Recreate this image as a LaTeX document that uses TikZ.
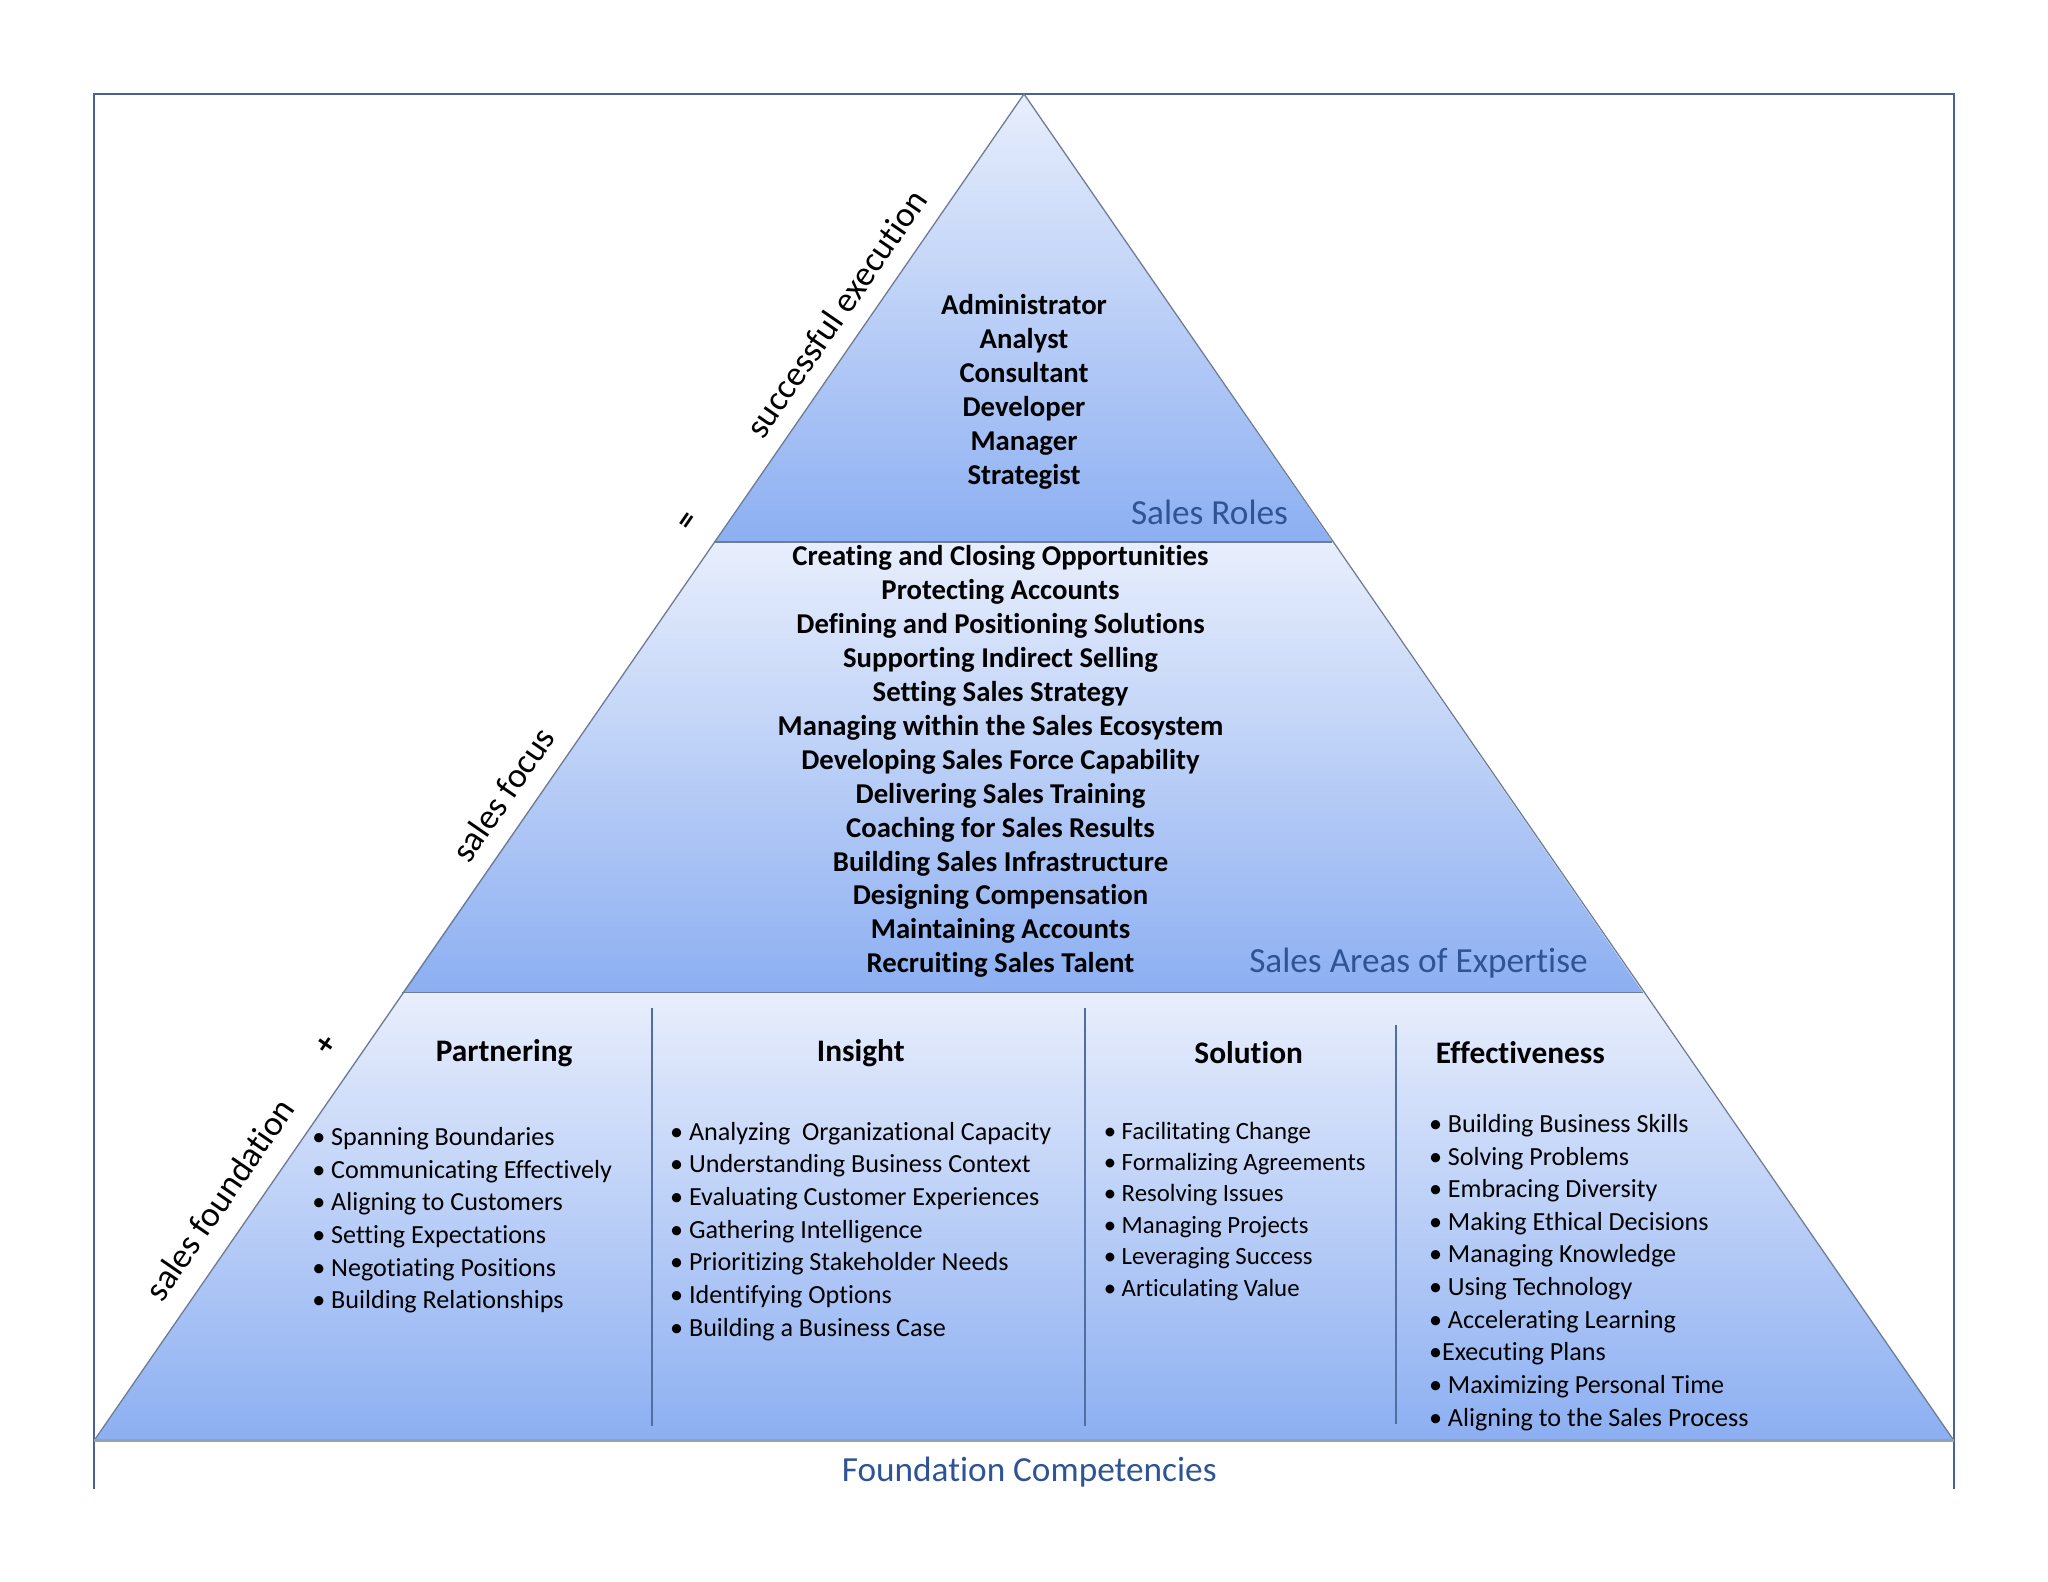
\documentclass[tikz,border=0pt]{standalone}
\usepackage{fontspec}
\setmainfont{Carlito}[RawFeature=-liga]
\definecolor{frame}{RGB}{70,100,150}
\definecolor{edgec}{RGB}{110,125,150}
\definecolor{basec}{RGB}{150,160,180}
\definecolor{colc}{RGB}{80,110,160}
\definecolor{labc}{RGB}{47,84,150}
\definecolor{topc}{RGB}{232,238,252}
\definecolor{botc}{RGB}{140,175,242}
\begin{document}
\begin{tikzpicture}[x=0.5pt,y=-0.5pt,
 sect/.style={top color=topc,bottom color=botc,draw=none},
 edge/.style={draw=edgec,line width=0.5pt},
 hd/.style={font=\fontsize{11}{13}\selectfont\bfseries,align=center},
 ch/.style={font=\fontsize{12}{14}\selectfont\bfseries},
 lst/.style={font=\fontsize{10}{12.5}\selectfont,align=left,anchor=north west},
 lab/.style={text=labc,font=\fontsize{13.5}{15}\selectfont},
 side/.style={font=\fontsize{13.5}{15}\selectfont,rotate=55.4},
 col/.style={draw=colc,line width=0.8pt}]
\useasboundingbox (0,0) rectangle (1568,1211);
\draw[frame,line width=1pt] (72,1140) -- (72,72) -- (1496,72) -- (1496,1140);
\coordinate (A) at (784,72);
\coordinate (L1) at (547,415); \coordinate (R1) at (1020,415);
\coordinate (L2) at (308,760); \coordinate (R2) at (1258,760);
\coordinate (L3) at (72,1103); \coordinate (R3) at (1496,1103);
\shade[sect] (A) -- (R1) -- (L1) -- cycle;
\shade[sect] (L1) -- (R1) -- (R2) -- (L2) -- cycle;
\shade[sect] (L2) -- (R2) -- (R3) -- (L3) -- cycle;
\draw[edge] (L3) -- (A) -- (R3);
\draw[edge] (L1) -- (R1); \draw[edge] (L2) -- (R2);
\draw[basec,line width=1.2pt] (L3) -- (R3);
\draw[col] (499,772) -- (499,1092); \draw[col] (831,772) -- (831,1092); \draw[col] (1069,785) -- (1069,1090);
\node[hd] (roles) at (784,300) {Administrator\\Analyst\\Consultant\\Developer\\Manager\\Strategist};
\node[lab] (sr) at (926,392) {Sales Roles};
\node[hd] (areas) at (766,583) {Creating and Closing Opportunities\\Protecting Accounts\\Defining and Positioning Solutions\\Supporting Indirect Selling\\Setting Sales Strategy\\Managing within the Sales Ecosystem\\Developing Sales Force Capability\\Delivering Sales Training\\Coaching for Sales Results\\Building Sales Infrastructure\\Designing Compensation\\Maintaining Accounts\\Recruiting Sales Talent};
\node[lab] (sa) at (1086,737) {Sales Areas of Expertise};
\node[ch] (h1) at (386,806) {Partnering};
\node[ch] (h2) at (659,806) {Insight};
\node[ch] (h3) at (956,806) {Solution};
\node[ch] (h4) at (1164,806) {Effectiveness};
\node[lst] (l1) at (232,856) {• Spanning Boundaries\\• Communicating Effectively\\• Aligning to Customers\\• Setting Expectations\\• Negotiating Positions\\• Building Relationships};
\node[lst] (l2) at (506,852) {• Analyzing\ \ Organizational Capacity\\• Understanding Business Context\\• Evaluating Customer Experiences\\• Gathering Intelligence\\• Prioritizing Stakeholder Needs\\• Identifying Options\\• Building a Business Case};
\node[lst,font=\fontsize{9.5}{12}\selectfont] (l3) at (838,852) {• Facilitating Change\\• Formalizing Agreements\\• Resolving Issues\\• Managing Projects\\• Leveraging Success\\• Articulating Value};
\node[lst] (l4) at (1087,846) {• Building Business Skills\\• Solving Problems\\• Embracing Diversity\\• Making Ethical Decisions\\• Managing Knowledge\\• Using Technology\\• Accelerating Learning\\•Executing Plans\\• Maximizing Personal Time\\• Aligning to the Sales Process};
\node[lab] (fc) at (788,1127) {Foundation Competencies};
\node[side] (s1) at (640,240) {successful execution};
\node[side,font=\fontsize{12}{14}\selectfont\bfseries] (s2) at (528,400) {=};
\node[side] (s3) at (385,608) {sales focus};
\node[side,font=\fontsize{12}{14}\selectfont\bfseries] (s4) at (250,800) {+};
\node[side] (s5) at (168,918) {sales foundation};
\end{tikzpicture}
\end{document}
